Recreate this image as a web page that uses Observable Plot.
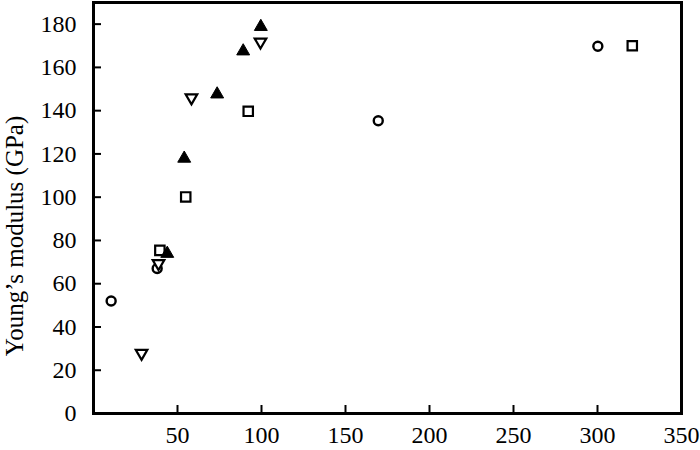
<!DOCTYPE html>
<html>
<head>
<meta charset="utf-8">
<script src="https://cdn.jsdelivr.net/npm/d3@7"></script>
<script src="https://cdn.jsdelivr.net/npm/@observablehq/plot@0.6"></script>
<style>
  html, body { margin: 0; padding: 0; background: #fff; }
  #chart svg, #chart svg text { font-family: "Liberation Serif", "Times New Roman", serif !important; }
</style>
</head>
<body>
<div id="chart"></div>
<script>
// ---- data ----
const yLabel = "Young’s modulus (GPa)";
const xTicks = [50, 100, 150, 200, 250, 300, 350];
const yTicks = [0, 20, 40, 60, 80, 100, 120, 140, 160, 180];

const circleX = [10.5, 37.9, 169.5, 300.2];
const circleY = [52.0, 67.0, 135.3, 169.8];

const squareX = [39.5, 54.9, 92.1, 320.7];
const squareY = [75.4, 100.1, 139.7, 170.0];

const triUpX = [43.9, 54.0, 73.6, 89.1, 99.6];
const triUpY = [73.9, 117.9, 147.6, 167.5, 178.8];

const triDownX = [28.6, 38.7, 58.3, 99.4];
const triDownY = [27.9, 69.4, 146.0, 171.8];

// ---- helpers ----
const toRows = (xs, ys) => xs.map((x, i) => ({x, y: ys[i]}));
const triangleDown = {
  draw(context, size) {
    const s3 = Math.sqrt(3);
    const y = -Math.sqrt(size / (s3 * 3));
    context.moveTo(0, -y * 2);
    context.lineTo(-s3 * y, y);
    context.lineTo(s3 * y, y);
    context.closePath();
  }
};

const chart = Plot.plot({
  width: 700,
  height: 450,
  marginLeft: 93,
  marginRight: 19,
  marginTop: 2,
  marginBottom: 37,
  style: {fontFamily: "Liberation Serif, Times New Roman, serif", fontSize: "24px", color: "black", background: "white"},
  x: {domain: [0, 350]},
  y: {domain: [0, 190]},
  marks: [
    Plot.axisX({ticks: xTicks, tickSize: -8, tickPadding: 20, strokeWidth: 2, label: null, fontSize: 24}),
    Plot.axisY({ticks: yTicks, tickSize: -8, tickPadding: 25, strokeWidth: 2, label: null, fontSize: 24}),
    Plot.frame({stroke: "black", strokeWidth: 3}),
    Plot.text([yLabel], {text: d => d, frameAnchor: "left", textAnchor: "middle", rotate: -90, dx: -79, dy: 28, fontSize: 25, fill: "black"}),
    Plot.dot(toRows(circleX, circleY), {x: "x", y: "y", symbol: "circle", r: 4.5, stroke: "black", strokeWidth: 2.4, fill: "white"}),
    Plot.dot(toRows(squareX, squareY), {x: "x", y: "y", symbol: "square", r: 5.3, stroke: "black", strokeWidth: 2.2, fill: "white"}),
    Plot.dot(toRows(triDownX, triDownY), {x: "x", y: "y", symbol: triangleDown, r: 4.3, stroke: "black", strokeWidth: 2.2, fill: "white"}),
    Plot.dot(toRows(triUpX, triUpY), {x: "x", y: "y", symbol: "triangle", r: 4.8, stroke: "black", strokeWidth: 1, fill: "black"})
  ]
});
document.getElementById("chart").appendChild(chart);
</script>
</body>
</html>
